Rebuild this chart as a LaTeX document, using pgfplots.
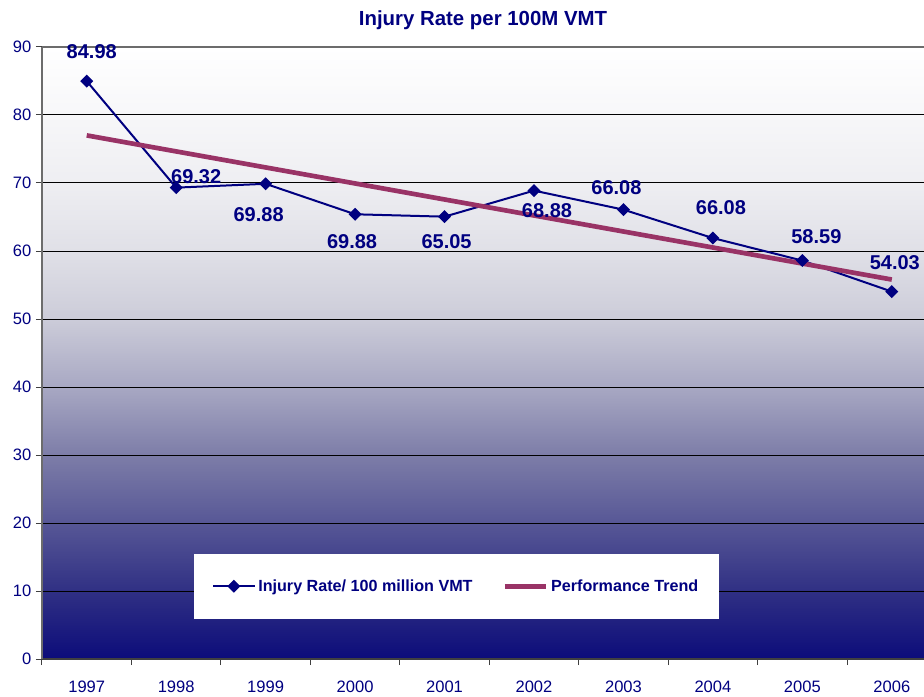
\documentclass[border=0pt]{standalone}
\usepackage{pgfplots}
\pgfplotsset{compat=1.18}
\usepackage{pgfplotstable}
\usepackage{fontspec}
\setmainfont{Liberation Sans}

\definecolor{navy}{RGB}{0,0,128}
\definecolor{trend}{RGB}{153,51,102}
\definecolor{bg0}{RGB}{12,12,122}
\definecolor{bg10}{RGB}{48,48,132}
\definecolor{bg20}{RGB}{87,87,150}
\definecolor{bg30}{RGB}{125,125,168}
\definecolor{bg40}{RGB}{168,168,195}
\definecolor{bg50}{RGB}{204,204,217}
\definecolor{bg60}{RGB}{224,224,231}
\definecolor{bg70}{RGB}{238,238,242}
\definecolor{bg80}{RGB}{247,247,249}

% plot area spans 25bp..75bp of the shading
\pgfdeclareverticalshading{plotbg}{100bp}{color(0bp)=(bg0); color(25bp)=(bg0);
  color(30.56bp)=(bg10); color(36.11bp)=(bg20); color(41.67bp)=(bg30);
  color(47.22bp)=(bg40); color(52.78bp)=(bg50); color(58.33bp)=(bg60);
  color(63.89bp)=(bg70); color(69.44bp)=(bg80); color(75bp)=(white); color(100bp)=(white)}

% year index, value, printed label, label offset (pt)
\pgfplotstableread{
x y lab dx dy
0 84.98 84.98 3.75 22.5
1 69.32 69.32 15 8.25
2 69.88 69.88 -5.25 -23.25
3 65.40 69.88 -2.25 -20.25
4 65.05 65.05 1.5 -18.75
5 68.88 68.88 9.75 -15
6 66.08 66.08 -5.25 16.5
7 61.90 66.08 6 22.5
8 58.59 58.59 10.5 18
9 54.03 54.03 2.25 21.75
}\injury

\pgfplotstableread{
x y
0 77.0
9 55.8
}\trendline

\begin{document}
\begin{tikzpicture}
\path[use as bounding box] (-31.5pt,-27.75pt) rectangle (661.5pt,494.25pt);
\begin{axis}[scale only axis,width=661.5pt,height=459pt,
at={(0,0)},anchor=south west,
xmin=-0.5,xmax=9.36,ymin=0,ymax=90,
clip=false,
axis background/.style={shading=plotbg},
axis x line*=bottom,axis y line*=left,
x axis line style={black!75,line width=1.5pt},
y axis line style={gray!85!black,line width=1.5pt},
xtick={0,...,9},xticklabels={1997,1998,1999,2000,2001,2002,2003,2004,2005,2006},
major x tick style={draw=none},
minor xtick={-0.5,0.5,...,9.5},minor tick length=4.5pt,
minor x tick style={black!75,line width=0.75pt},
xticklabel style={yshift=-8.25pt},
ytick={0,10,...,80},extra y ticks={90},
extra y tick style={grid style={gray!85!black,line width=1.5pt}},
tick align=outside,major tick length=4.5pt,
y tick style={black!75,line width=0.75pt},
ymajorgrids=true,grid style={black,line width=0.75pt},
/pgf/number format/assume math mode=true,
tick label style={font=\fontsize{12.4}{14}\selectfont,text=navy},
title={Injury Rate per 100M VMT},
title style={font=\bfseries\fontsize{15.3}{18}\selectfont,text=navy,at={(0.5,1)},anchor=center,yshift=14.25pt},
legend columns=2,
legend style={at={(0.172,0.065)},anchor=south west,draw=none,fill=white,
  font=\bfseries\fontsize{12.1}{14}\selectfont,text=navy,
  inner xsep=13.75pt,inner ysep=17.4pt,
  /tikz/every even column/.append style={column sep=20.5pt}},
legend image code/.code={\draw[#1,mark repeat=2,mark phase=2] plot coordinates {(0pt,0pt) (15.5pt,0pt) (31pt,0pt)};},
]
\addplot[navy,line width=1.5pt,mark=square*,mark size=2.7pt,mark options={rotate=45,solid},
  nodes near coords,point meta=explicit symbolic,
  visualization depends on={\thisrow{dx}\as\dx},
  visualization depends on={\thisrow{dy}\as\dy},
  every node near coord/.append style={anchor=center,xshift=\dx*1pt,yshift=\dy*1pt,
    font=\bfseries\fontsize{15}{18}\selectfont,text=navy}]
  table[x=x,y=y,meta=lab]{\injury};
\addlegendentry{Injury Rate/ 100 million VMT}
\addplot[trend,line width=3.5pt] table[x=x,y=y]{\trendline};
\addlegendentry{Performance Trend}
\end{axis}
\end{tikzpicture}
\end{document}
